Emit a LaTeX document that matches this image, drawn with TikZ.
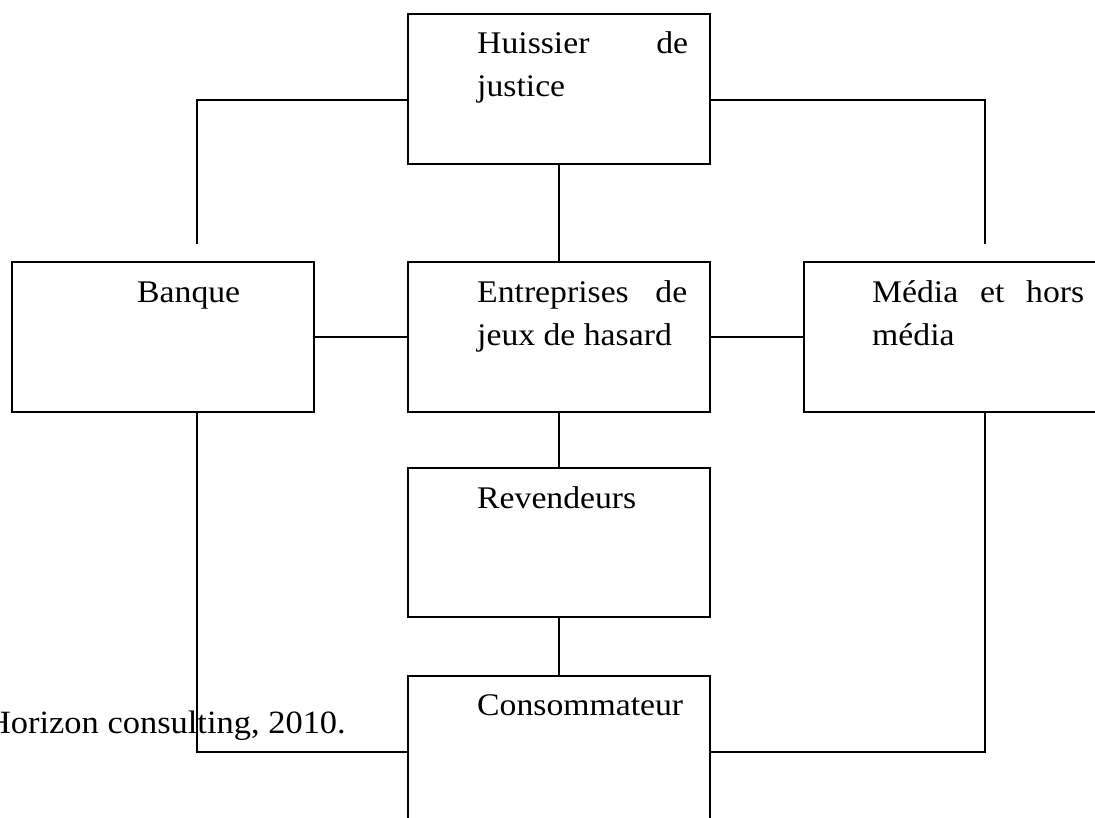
\documentclass[tikz,border=0pt]{standalone}
\usepackage{fontspec}
\setmainfont{Liberation Serif}
\newfontfamily\boxfont[FakeStretch=1.07]{Liberation Serif}
\newfontfamily\srcfont[FakeStretch=1.06]{Liberation Serif}
\begin{document}
\begin{tikzpicture}[x=1pt,y=-1pt,
  box/.style={draw, line width=2.2pt, minimum width=302pt, minimum height=150pt, inner sep=0pt, anchor=north west},
  conn/.style={line width=1.8pt},
  lbl/.style={inner sep=0pt, anchor=base west, font=\boxfont\fontsize{31.5}{40}\selectfont},
  src/.style={inner sep=0pt, anchor=base east, font=\srcfont\fontsize{32.5}{39}\selectfont}]
\clip (0,0) rectangle (1095,818);
\fill[white] (0,0) rectangle (1095,818);
% boxes
\node[box] (hu) at (407,13) {};
\node[box] (ba) at (11,261) {};
\node[box] (en) at (407,261) {};
\node[box] (me) at (803,261) {};
\node[box, minimum height=149pt] (re) at (407,467) {};
\node[box] (co) at (407,675) {};
% texts
\node[lbl] (hu1) at (477,54) {\makebox[211pt][s]{Huissier de}};
\node[lbl] (hu2) at (477,97) {justice};
\node[lbl] (ba1) at (137,302) {Banque};
\node[lbl] (en1) at (477,302) {\makebox[210pt][s]{Entreprises de}};
\node[lbl] (en2) at (477,345) {jeux de hasard};
\node[lbl] (me1) at (872,302) {\makebox[212pt][s]{Média et hors}};
\node[lbl] (me2) at (872,345) {média};
\node[lbl] (re1) at (477,508) {Revendeurs};
\node[lbl] (co1) at (477,715) {Consommateur};
\node[src] (source) at (346,733) {Horizon consulting, 2010.};
% connector end points
\coordinate (lt) at (197,244);
\coordinate (rt) at (985,244);
\coordinate (lb) at (197,752);
\coordinate (rb) at (985,752);
% connectors
\draw[conn] (lt) |- (hu.west |- 0,100);
\draw[conn] (rt) |- (hu.east |- 0,100);
\draw[conn] (hu.south) -- (en.north);
\draw[conn] (ba.east) -- (en.west);
\draw[conn] (en.east) -- (me.west);
\draw[conn] (en.south) -- (re.north);
\draw[conn] (re.south) -- (co.north);
\draw[conn] (ba.south -| lb) -- (lb) -- (co.west |- lb);
\draw[conn] (me.south -| rb) -- (rb) -- (co.east |- rb);
\end{tikzpicture}
\end{document}
